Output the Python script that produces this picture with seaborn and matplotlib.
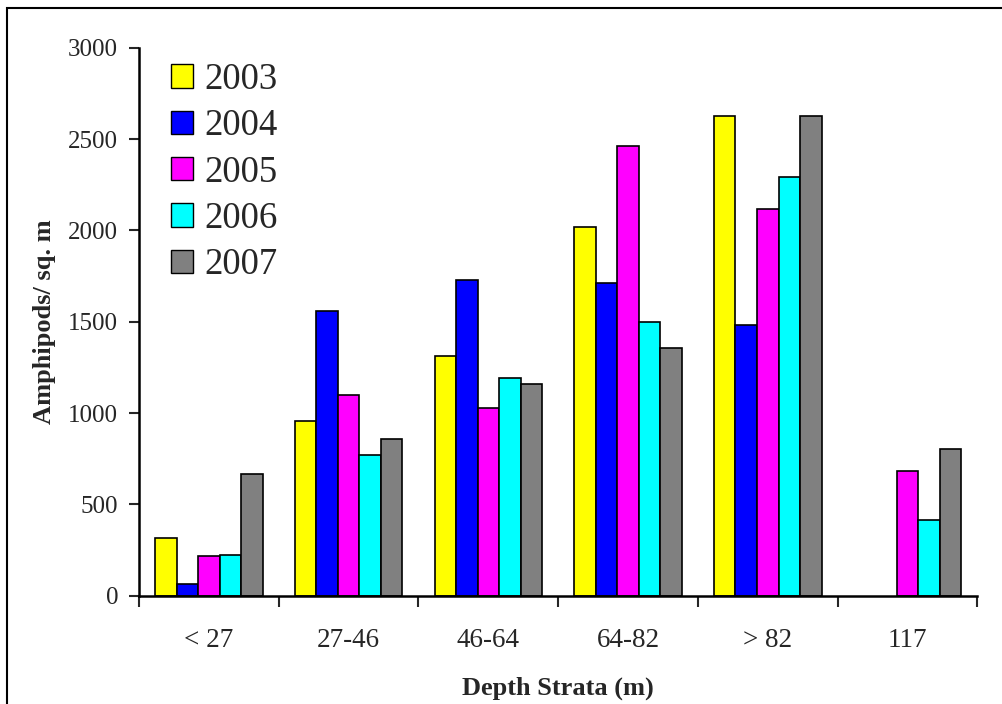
import numpy as np
import pandas as pd
import matplotlib
matplotlib.use("Agg")
import matplotlib.pyplot as plt
from matplotlib.patches import Rectangle
import seaborn as sns

# Data
strata = ["< 27", "27-46", "46-64", "64-82", "> 82", "117"]
years = ["2003", "2004", "2005", "2006", "2007"]
y2003 = [314, 955, 1313, 2019, 2629, np.nan]
y2004 = [64, 1559, 1729, 1713, 1482, np.nan]
y2005 = [217, 1099, 1028, 2463, 2120, 683]
y2006 = [222, 770, 1192, 1501, 2290, 414]
y2007 = [665, 857, 1159, 1355, 2629, 803]
colors = ["#FFFF00", "#0000FF", "#FF00FF", "#00FFFF", "#808080"]

df = pd.DataFrame({"strata": strata, "2003": y2003, "2004": y2004,
                   "2005": y2005, "2006": y2006, "2007": y2007})
df = df.melt(id_vars="strata", var_name="year", value_name="value")

sns.set_style("white")
plt.rcParams["font.family"] = ["Liberation Serif", "DejaVu Serif"]

fig = plt.figure(figsize=(10.03, 7.04), dpi=100)
ax = fig.add_axes([0.1386, 0.154, 0.9744 - 0.1386, 0.932 - 0.154])

sns.barplot(data=df, x="strata", y="value", hue="year", order=strata,
            hue_order=years, palette=colors, width=0.77, gap=0,
            edgecolor="black", linewidth=1.2, saturation=1, ax=ax)

ax.set_ylim(0, 3000)
ax.set_xlim(-0.5, len(strata) - 0.5)
ax.set_yticks(range(0, 3001, 500))
ax.tick_params(axis="y", direction="out", length=7, width=1.5,
               labelsize=18, pad=8, left=True)
ax.tick_params(axis="x", which="major", length=0, labelsize=19.5, pad=23)
ax.set_xticks(np.arange(-0.5, len(strata)), minor=True)
ax.tick_params(axis="x", which="minor", direction="out", length=8,
               width=1.5, bottom=True)

for s in ["top", "right"]:
    ax.spines[s].set_visible(False)
for s in ["left", "bottom"]:
    ax.spines[s].set_linewidth(1.8)
    ax.spines[s].set_color("black")

ax.set_xlabel("Depth Strata (m)", fontsize=19, fontweight="bold", labelpad=17)
ax.set_ylabel("Amphipods/ sq. m", fontsize=19, fontweight="bold", labelpad=9)

leg = ax.legend(loc="upper left", bbox_to_anchor=(0.0205, 1.0), frameon=False,
                fontsize=26.5, handlelength=0.6, handleheight=0.6,
                handletextpad=0.3, labelspacing=0.32, borderaxespad=0)
for h in leg.legend_handles:
    h.set_edgecolor("black")
    h.set_linewidth(1.0)

# outer frame of the picture
fig.add_artist(Rectangle((7 / 1003, -0.1), 1.2, 1.1 - 8 / 704,
                         transform=fig.transFigure, fill=False,
                         edgecolor="black", linewidth=1.5))

fig.savefig("out.png", dpi=100)
